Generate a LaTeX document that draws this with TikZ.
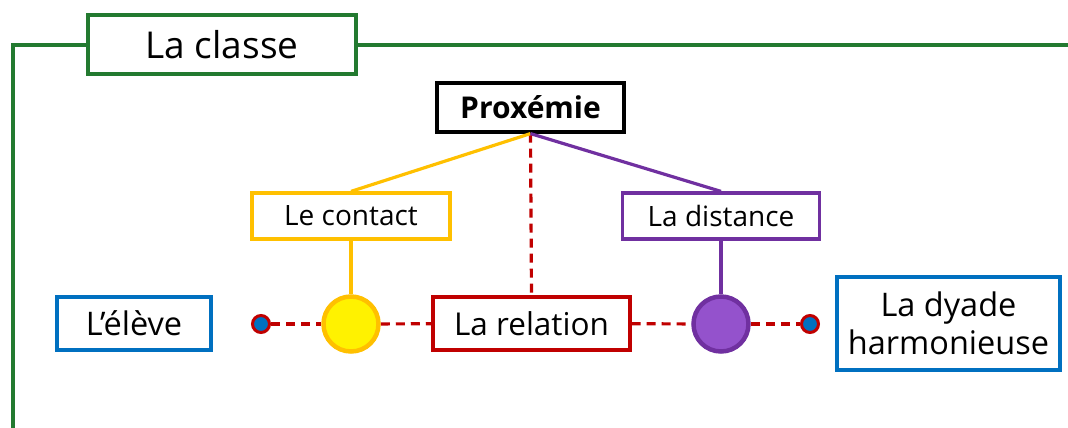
\documentclass[tikz,border=0pt]{standalone}
\usepackage{fontspec}
\setmainfont{Open Sans}
\definecolor{cgreen}{HTML}{237A30}
\definecolor{cyellow}{HTML}{FFC000}
\definecolor{cpurple}{HTML}{7030A0}
\definecolor{cpurplefill}{HTML}{9452CC}
\definecolor{cred}{HTML}{C00000}
\definecolor{cblue}{HTML}{0070C0}
\begin{document}
\begin{tikzpicture}[x=1pt,y=-1pt,
  box/.style={draw,line width=3.2pt,fill=white,inner sep=0pt,align=center,text=black},
  reddash/.style={draw=cred,line width=3.2pt,dash pattern=on 9pt off 6pt},
  dot/.style={circle,draw=cred,fill=cblue,line width=3pt,minimum size=17pt,inner sep=0pt}]
\useasboundingbox (0,0) rectangle (1068,428);
% frame
\node[box,draw=cgreen,minimum width=268pt,minimum height=59pt,font=\fontsize{37}{40}\selectfont] (classe) at (222,44.5) {La classe};
\coordinate (fbl) at (13,430);
\coordinate (ftl) at (13,45);
\coordinate (ftr) at (1070,45);
\draw[cgreen,line width=3.2pt] (fbl) -- (ftl) -- (classe.west|-ftl);
\draw[cgreen,line width=3.2pt] (classe.east|-ftr) -- (ftr);
% top nodes
\node[box,draw=black,minimum width=187pt,minimum height=49pt,font=\fontsize{30}{34}\selectfont\bfseries] (prox) at (530.5,107.5) {Proxémie};
\node[box,draw=cyellow,minimum width=198pt,minimum height=46pt,font=\fontsize{28}{31}\selectfont] (contact) at (351,216) {Le contact};
\node[box,draw=cpurple,minimum width=197pt,minimum height=46pt,font=\fontsize{28}{31}\selectfont] (distance) at (721,216) {La distance};
% middle row
\node[box,draw=cred,minimum width=197pt,minimum height=53pt,font=\fontsize{31.5}{35}\selectfont] (relation) at (531.5,323.5) {La relation};
\node[box,draw=cblue,minimum width=154pt,minimum height=53pt,font=\fontsize{32.5}{36}\selectfont] (eleve) at (134,323.5) {L’élève};
\node[box,draw=cblue,minimum width=223pt,minimum height=93pt,font=\fontsize{32.5}{38}\selectfont] (dyade) at (948.5,323.5) {La dyade\\harmonieuse};
\node[dot] (dl) at (261,324) {};
\node[dot] (dr) at (810,324) {};
\node[circle,draw=cyellow,fill=yellow,line width=4.5pt,minimum size=55pt,inner sep=0pt] (cy) at (351,324) {};
\node[circle,draw=cpurple,fill=cpurplefill,line width=4.5pt,minimum size=55pt,inner sep=0pt] (cp) at (721,324) {};
% connectors
\draw[reddash] (prox.south) -- (relation.north);
\draw[reddash] (dl) -- (cy);
\draw[reddash] (cy) -- (relation);
\draw[reddash] (relation) -- (cp);
\draw[reddash] (cp) -- (dr);
\draw[cyellow,line width=3.2pt] (prox.south) -- (contact.north);
\draw[cpurple,line width=3.2pt] (prox.south) -- (distance.north);
\draw[cyellow,line width=3.2pt] (contact.south) -- (cy.north);
\draw[cpurple,line width=3.2pt] (distance.south) -- (cp.north);
\end{tikzpicture}
\end{document}
